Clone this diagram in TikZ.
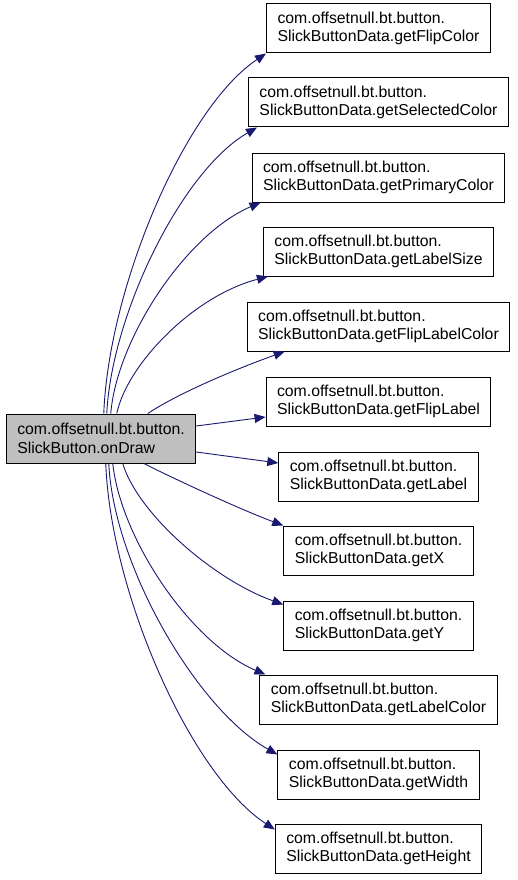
\documentclass[tikz,border=0pt]{standalone}
\usepackage{fontspec}
\setmainfont{Liberation Sans}
\usetikzlibrary{arrows.meta}
\definecolor{callblue}{HTML}{191970}
\definecolor{boxgray}{HTML}{BFBFBF}
\begin{document}
\begin{tikzpicture}[x=1pt,y=-1pt,
    every node/.style={font=\fontsize{15.8}{18.5}\selectfont},
    fn/.style={draw,line width=1pt,align=left,inner xsep=11pt,inner ysep=0pt,minimum height=49pt},
    call/.style={callblue,line width=0.9pt,-{Triangle[length=11pt,width=9pt]}}]
    \useasboundingbox (0,0) rectangle (517,880);
    % caller
    \node[fn,fill=boxgray] (ondraw) at (101,438.5) {com.offsetnull.bt.button.\\SlickButton.onDraw};
    % callees
    \node[fn] (flipcolor) at (378.5,28.5) {com.offsetnull.bt.button.\\SlickButtonData.getFlipColor};
    \node[fn] (selcolor) at (378.5,102.5) {com.offsetnull.bt.button.\\SlickButtonData.getSelectedColor};
    \node[fn] (primcolor) at (378.5,177.5) {com.offsetnull.bt.button.\\SlickButtonData.getPrimaryColor};
    \node[fn] (labelsize) at (378.5,251.5) {com.offsetnull.bt.button.\\SlickButtonData.getLabelSize};
    \node[fn] (fliplabcolor) at (378.5,326.5) {com.offsetnull.bt.button.\\SlickButtonData.getFlipLabelColor};
    \node[fn] (fliplabel) at (378.5,401.5) {com.offsetnull.bt.button.\\SlickButtonData.getFlipLabel};
    \node[fn] (label) at (378.5,476.5) {com.offsetnull.bt.button.\\SlickButtonData.getLabel};
    \node[fn] (getx) at (378.5,550.5) {com.offsetnull.bt.button.\\SlickButtonData.getX};
    \node[fn] (gety) at (378.5,625.5) {com.offsetnull.bt.button.\\SlickButtonData.getY};
    \node[fn] (labelcolor) at (378.5,699.5) {com.offsetnull.bt.button.\\SlickButtonData.getLabelColor};
    \node[fn] (width) at (378.5,774.5) {com.offsetnull.bt.button.\\SlickButtonData.getWidth};
    \node[fn] (height) at (378.5,848.5) {com.offsetnull.bt.button.\\SlickButtonData.getHeight};
    % calls
    \draw[call] ([xshift=98pt]ondraw.north west) .. controls +(5,-127) and +(-81,54) .. (flipcolor.south west);
    \draw[call] ([xshift=101pt]ondraw.north west) .. controls +(5,-100) and +(-75,43) .. ([xshift=9pt]selcolor.south west);
    \draw[call] ([xshift=105pt]ondraw.north west) .. controls +(6,-74) and +(-75,32) .. ([xshift=9pt]primcolor.south west);
    \draw[call] ([xshift=111pt]ondraw.north west) .. controls +(10,-48) and +(-76,20) .. ([xshift=5pt]labelsize.south west);
    \draw[call] ([xshift=142pt]ondraw.north west) .. controls +(30,-20) and +(-50,18) .. ([xshift=38pt]fliplabcolor.south west);
    \draw[call] ([yshift=12.5pt]ondraw.east) -- ([yshift=-15.5pt]fliplabel.west);
    \draw[call] ([yshift=-13.5pt]ondraw.east) -- ([yshift=13.5pt]label.west);
    \draw[call] ([xshift=138pt]ondraw.south west) .. controls +(40,20) and +(-40,-15) .. (getx.north west);
    \draw[call] ([xshift=117pt]ondraw.south west) .. controls +(15,50) and +(-70,-25) .. ([yshift=-4pt]gety.north west);
    \draw[call] ([xshift=107pt]ondraw.south west) .. controls +(8,75) and +(-75,-32) .. ([xshift=6pt]labelcolor.north west);
    \draw[call] ([xshift=103pt]ondraw.south west) .. controls +(5,103) and +(-80,-45) .. ([yshift=-5pt]width.north west);
    \draw[call] ([xshift=100pt]ondraw.south west) .. controls +(5,130) and +(-84,-55) .. ([yshift=-6pt]height.north west);
\end{tikzpicture}
\end{document}
